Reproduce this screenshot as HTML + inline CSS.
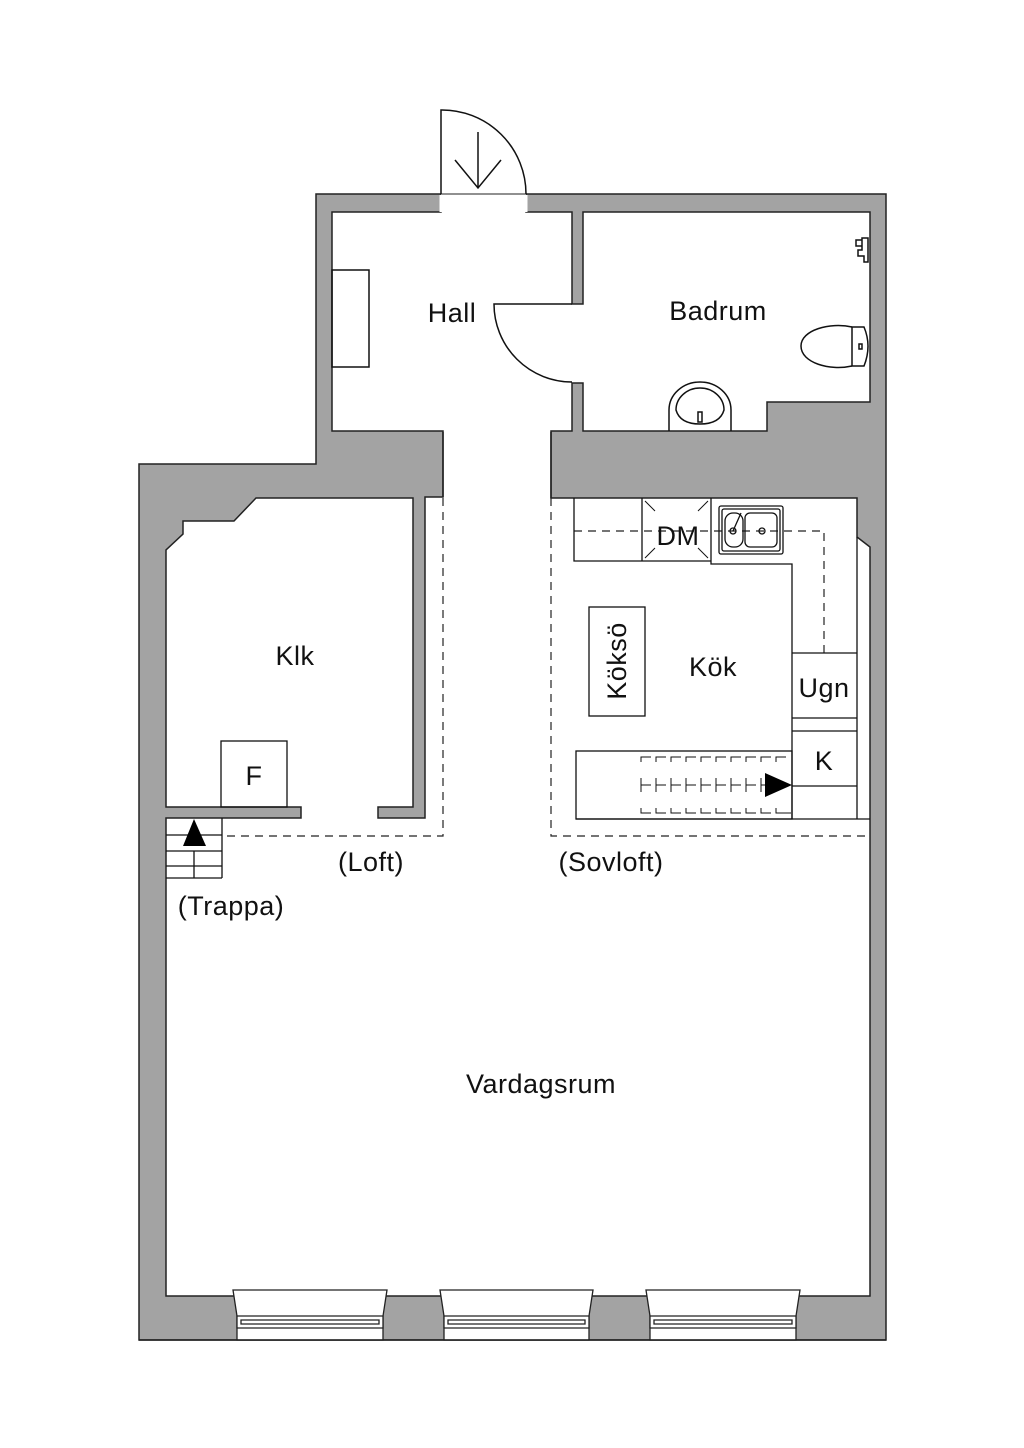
<!DOCTYPE html>
<html><head><meta charset="utf-8"><style>
html,body{margin:0;padding:0;background:#fff;}
svg{display:block}
text{font-family:"Liberation Sans",sans-serif;fill:#111;}
</style></head><body>
<svg width="1024" height="1448" viewBox="0 0 1024 1448" xmlns="http://www.w3.org/2000/svg">
<polygon points="316,194 886,194 886,1340 139,1340 139,464 316,464" fill="#a3a3a3" stroke="#222" stroke-width="1.5"/>
<polygon points="332,212 441,212 441,194 526,194 526,212 572,212 572,304 583,304 583,212 870,212 870,402 767,402 767,431 583,431 583,383 572,383 572,431 551,431 551,498 857,498 857,537 870,547 870,1296 166,1296 166,818 301,818 301,807 166,807 166,550 183,534 183,521 234,521 256,498 413,498 413,807 378,807 378,818 425,818 425,497 443,497 443,431 332,431" fill="#fff" stroke="#222" stroke-width="1.5"/>
<line x1="441" y1="194" x2="526" y2="194" stroke="#fff" stroke-width="3"/>
<line x1="441" y1="195" x2="441" y2="212" stroke="#fff" stroke-width="3"/>
<line x1="526" y1="195" x2="526" y2="212" stroke="#fff" stroke-width="3"/>
<line x1="441" y1="194" x2="526" y2="194" stroke="#222" stroke-width="1"/>
<rect x="444" y="425" width="106" height="80" fill="#fff"/>
<line x1="443" y1="432" x2="443" y2="497" stroke="#222" stroke-width="1.5"/>
<line x1="551" y1="432" x2="551" y2="498" stroke="#222" stroke-width="1.5"/>
<g fill="none" stroke="#111" stroke-width="1.5">
<path d="M441,194 V110 A84,84 0 0 1 526,194"/>
<path d="M478,132 V188 M455,160 L478,188 L501,160"/>
<path d="M572,304 H494 A78,78 0 0 0 572,382"/>
<rect x="332" y="270" width="37" height="97"/>
<path d="M852,327 H864 Q872,346 864,366 H852 Z"/>
<path d="M852,327 C830,322 801,330 801,346 C801,363 830,371 852,366"/>
<rect x="859" y="344" width="3" height="5"/>
<path d="M669,431 V410 A31,28 0 0 1 731,410 V431"/>
<path d="M676,410 A24,22 0 0 1 724,410 Q720,424 700,424 Q680,424 676,410 Z"/>
<rect x="698" y="412" width="4" height="10"/>
<path d="M862,238 h6 v24 h-4 v-6 h-6 v-6 h4 z M856,240 h6 v6 h-6 z"/>
</g>
<g fill="none" stroke="#111" stroke-width="1.3">
<rect x="221" y="741" width="66" height="66"/>
<path d="M166,835 H222 M166,851 H222 M166,866 H222 M166,878 H222 M222,818 V878 M194,851 V878"/>
</g>
<polygon points="194,819 183,846 206,846" fill="#000"/>
<g fill="none" stroke="#222" stroke-width="1.2" stroke-dasharray="8,6">
<path d="M443,498 V836 H225"/>
<path d="M551,498 V836 H870"/>
<path d="M574,531 H824 V653"/>
</g>
<g fill="none" stroke="#111" stroke-width="1.3">
<path d="M574,498 V561 H711 V564 H792 V819 M711,498 V564 M642,498 V561"/>
<path d="M857,537 V819 M792,653 H857 M792,718 H857 M792,731 H857 M792,786 H857 M576,819 H870"/>
<rect x="576" y="751" width="216" height="68"/>
<rect x="589" y="607" width="56" height="109"/>
<rect x="719" y="506" width="64" height="48" rx="2"/>
<rect x="722" y="509" width="58" height="42" rx="2"/>
<rect x="725" y="513" width="18" height="34" rx="8"/>
<rect x="745" y="513" width="32" height="34" rx="5"/>
<circle cx="733" cy="531" r="3"/><circle cx="762" cy="531" r="3"/>
<path d="M733,531 L741,513"/>
<path d="M645,501 L655,511 M708,501 L698,511 M645,558 L655,548 M708,558 L698,548" stroke-width="1"/>
</g>
<g fill="none" stroke="#111" stroke-width="1">
<path d="M641,762V757H651 M656,762V757H666 M671,762V757H681 M686,762V757H696 M701,762V757H711 M716,762V757H726 M731,762V757H741 M746,762V757H756 M761,762V757H771 M776,762V757H786"/>
<path d="M641,778V792M641,785H651 M656,778V792M656,785H666 M671,778V792M671,785H681 M686,778V792M686,785H696 M701,778V792M701,785H711 M716,778V792M716,785H726 M731,778V792M731,785H741 M746,778V792M746,785H756 M761,778V792M761,785H771"/>
<path d="M641,808V813H651 M656,808V813H666 M671,808V813H681 M686,808V813H696 M701,808V813H711 M716,808V813H726 M731,808V813H741 M746,808V813H756 M761,808V813H771 M776,808V813H791"/>
</g>
<polygon points="792,785 765,773 765,797" fill="#000"/>
<g fill="#fff" stroke="#222" stroke-width="1.3">
<path d="M233,1290 H387 L383,1316 V1340 H237 V1316 Z"/>
<path d="M440,1290 H593 L589,1316 V1340 H444 V1316 Z"/>
<path d="M646,1290 H800 L796,1316 V1340 H650 V1316 Z"/>
<path d="M237,1316 H383 V1328 H237 Z M241,1320 H379 V1324 H241 Z"/>
<path d="M444,1316 H589 V1328 H444 Z M448,1320 H585 V1324 H448 Z"/>
<path d="M650,1316 H796 V1328 H650 Z M654,1320 H792 V1324 H654 Z"/>
</g>
<line x1="139" y1="1340" x2="886" y2="1340" stroke="#222" stroke-width="1.5"/>
<g font-size="27" letter-spacing="0.5">
<text x="452" y="322" text-anchor="middle">Hall</text>
<text x="718" y="320" text-anchor="middle">Badrum</text>
<text x="295" y="665" text-anchor="middle">Klk</text>
<text x="713" y="676" text-anchor="middle">Kök</text>
<text x="824" y="697" text-anchor="middle">Ugn</text>
<text x="824" y="770" text-anchor="middle">K</text>
<text x="254" y="785" text-anchor="middle">F</text>
<text x="678" y="545" text-anchor="middle">DM</text>
<text transform="translate(626,661) rotate(-90)" text-anchor="middle">Köksö</text>
<text x="371" y="871" text-anchor="middle">(Loft)</text>
<text x="611" y="871" text-anchor="middle">(Sovloft)</text>
<text x="231" y="915" text-anchor="middle">(Trappa)</text>
<text x="541" y="1093" text-anchor="middle">Vardagsrum</text>
</g>
</svg>
</body></html>
